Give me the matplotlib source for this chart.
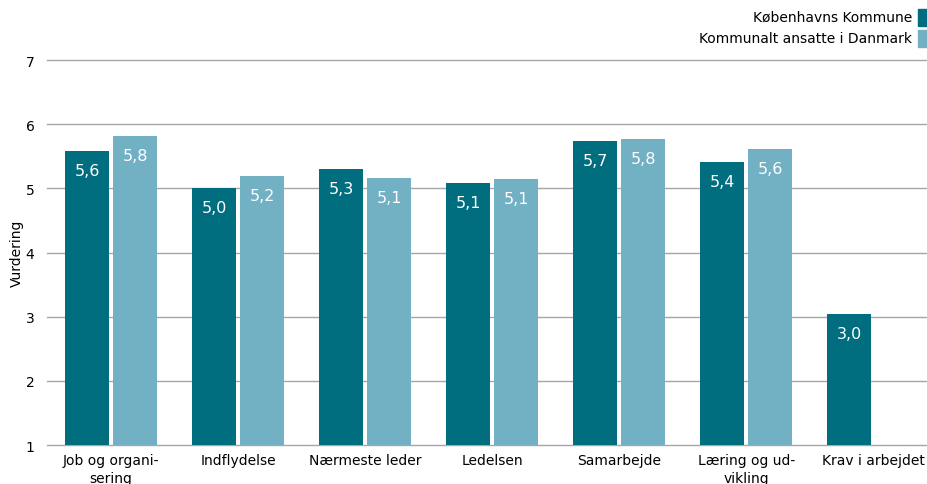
import matplotlib.pyplot as plt
import numpy as np

# data
categories = ['Job og organi-\nsering', 'Indflydelse', 'Nærmeste leder', 'Ledelsen',
              'Samarbejde', 'Læring og ud-\nvikling', 'Krav i arbejdet']
kbh = [5.58, 5.0, 5.3, 5.08, 5.74, 5.41, 3.04]
dk = [5.81, 5.2, 5.16, 5.14, 5.77, 5.61, None]
kbh_labels = ['5,6', '5,0', '5,3', '5,1', '5,7', '5,4', '3,0']
dk_labels = ['5,8', '5,2', '5,1', '5,1', '5,8', '5,6', '']

dark = '#006e7f'
light = '#72b0c4'

fig = plt.figure(figsize=(9.28, 4.85), dpi=100)
ax = fig.add_axes([0.0506, 0.0804, 0.9494, 0.7936])

x = np.arange(len(categories))
w = 0.346
off = 0.189

ax.set_ylim(1, 7)
ax.set_xlim(-0.504, 6.43)
ax.set_yticks(range(1, 8))
ax.grid(axis='y', color='#a6a6a6', linewidth=1, zorder=0)
for gl in ax.get_ygridlines():
    gl.set_clip_on(False)

# bars, Copenhagen first
for i in range(len(categories)):
    ax.bar(x[i] - off, kbh[i] - 1, w, bottom=1, color=dark, zorder=3)
    ax.annotate(kbh_labels[i], (x[i] - off, kbh[i]), xytext=(0, -14),
                textcoords='offset points', ha='center', va='center',
                color='white', fontsize=11.5, zorder=4)
    if dk[i] is not None:
        ax.bar(x[i] + off, dk[i] - 1, w, bottom=1, color=light, zorder=3)
        ax.annotate(dk_labels[i], (x[i] + off, dk[i]), xytext=(0, -14),
                    textcoords='offset points', ha='center', va='center',
                    color='white', fontsize=11.5, zorder=4)

ax.set_xticks(x)
ax.set_xticklabels(categories, fontsize=10, linespacing=1.3)
ax.tick_params(axis='both', length=0, labelsize=10)
ax.tick_params(axis='x', pad=6)
ax.tick_params(axis='y', pad=9)
for s in ax.spines.values():
    s.set_visible(False)
ax.set_ylabel('Vurdering', fontsize=10)
ax.yaxis.set_label_coords(-0.026, 0.5)

# legend: right-aligned text with square marker on the right
fig.text(912 / 928, 1 - 18 / 485, 'Københavns Kommune', ha='right', va='center', fontsize=10)
fig.text(912 / 928, 1 - 39 / 485, 'Kommunalt ansatte i Danmark', ha='right', va='center', fontsize=10)
fig.patches.append(plt.Rectangle((918 / 928, 1 - 27 / 485), 10 / 928, 17 / 485,
                                 transform=fig.transFigure, color=dark))
fig.patches.append(plt.Rectangle((918 / 928, 1 - 48 / 485), 10 / 928, 17 / 485,
                                 transform=fig.transFigure, color=light))

fig.savefig('out.png', dpi=100)
